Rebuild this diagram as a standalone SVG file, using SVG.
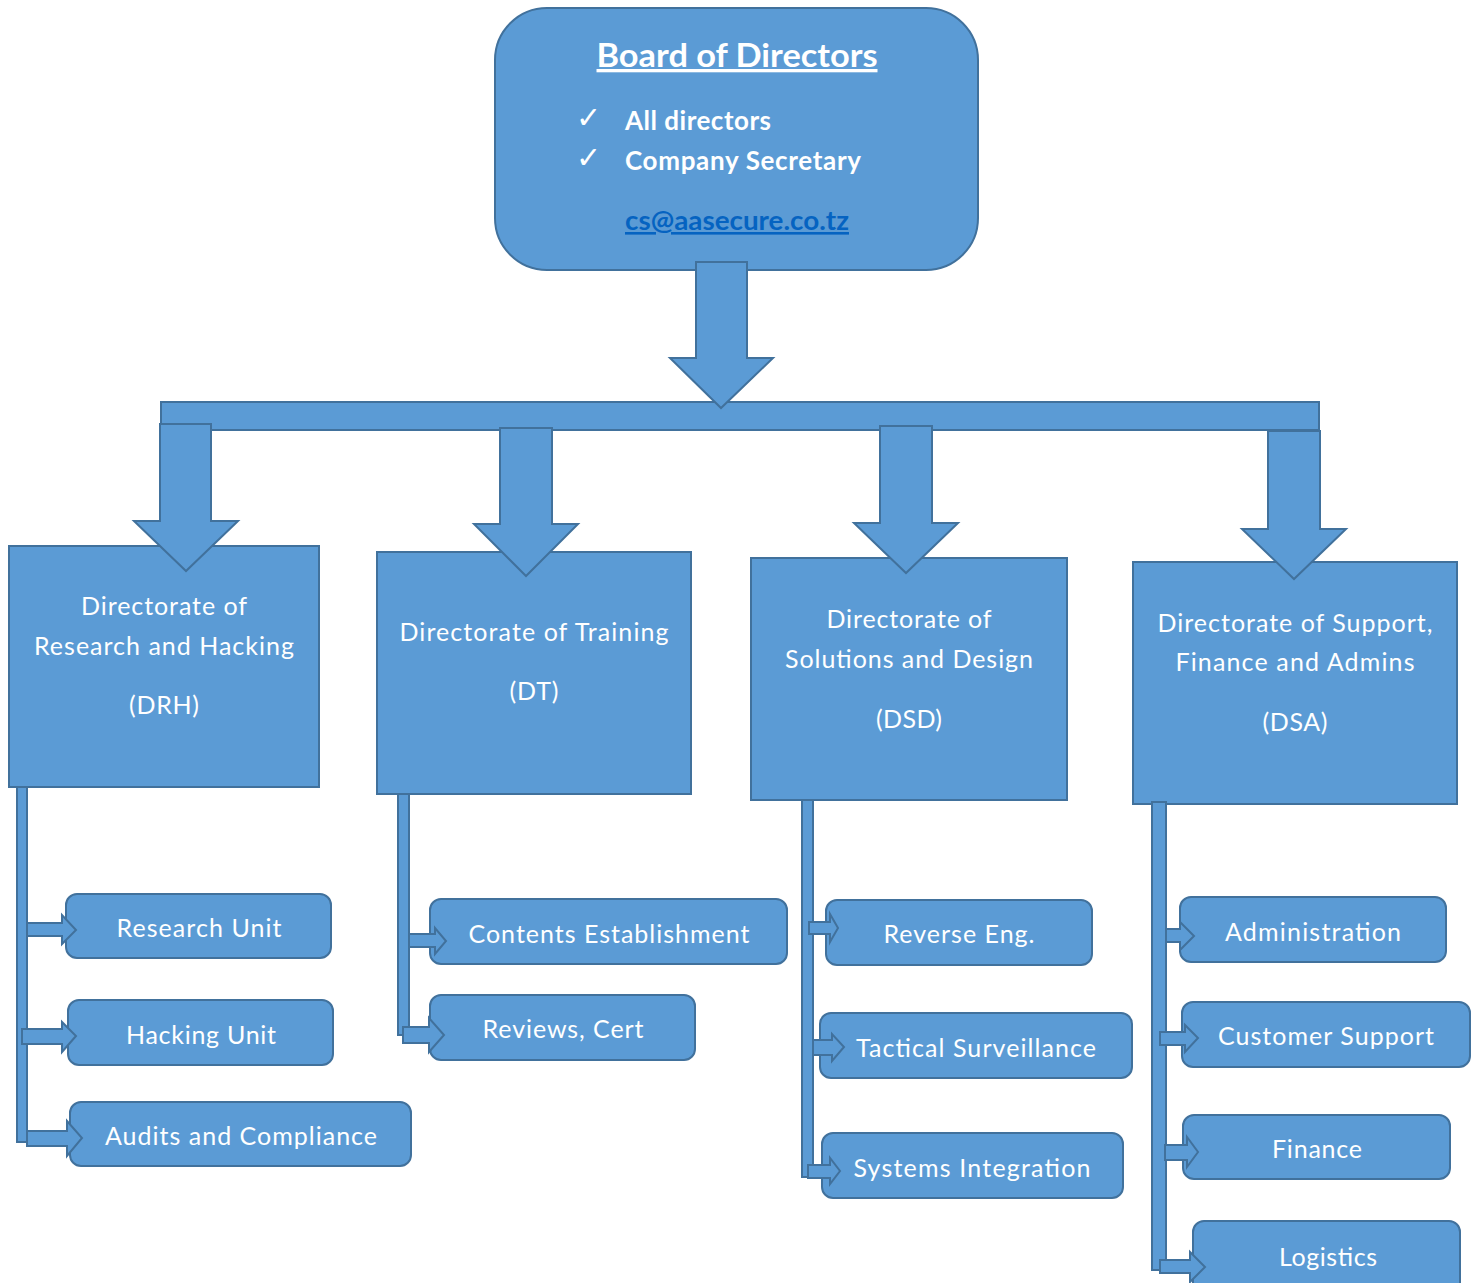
<svg xmlns="http://www.w3.org/2000/svg" width="1475" height="1283" viewBox="0 0 1475 1283">
<style>
.s{fill:#5B9BD5;stroke:#41719C;stroke-width:2}
.t{fill:#ffffff;font-family:Lato,"Open Sans",sans-serif;font-size:25px;text-anchor:middle}
.b{fill:#ffffff;font-family:Lato,"Open Sans",sans-serif;font-weight:bold;font-size:26px}
.ttl{font-size:33px}
.ck{fill:#ffffff;font-family:"DejaVu Sans",sans-serif;font-size:30px}
.lnk{fill:#0563C1}
</style>
<rect width="1475" height="1283" fill="#ffffff"/>
<g id="board">
<rect class="s" x="495" y="8" width="483" height="262" rx="52"/>
<text class="b ttl" x="737" y="67" text-anchor="middle" textLength="281" lengthAdjust="spacingAndGlyphs" text-decoration="underline">Board of Directors</text>
<text class="ck" x="576" y="128">✓</text>
<text class="ck" x="576" y="168">✓</text>
<text class="b" x="625" y="130" textLength="146">All directors</text>
<text class="b" x="625" y="170" textLength="236">Company Secretary</text>
<text class="b lnk" x="625" y="230" textLength="224" lengthAdjust="spacingAndGlyphs" text-decoration="underline">cs@aasecure.co.tz</text>
</g>
<g id="drh">
<rect class="s" x="9" y="546" width="310" height="241"/>
<text class="t" x="164" y="615" textLength="166">Directorate of</text>
<text class="t" x="164" y="655" textLength="260">Research and Hacking</text>
<text class="t" x="164" y="714" textLength="70">(DRH)</text>
</g>
<g id="dt">
<rect class="s" x="377" y="552" width="314" height="242"/>
<text class="t" x="534" y="641" textLength="269">Directorate of Training</text>
<text class="t" x="534" y="700" textLength="49">(DT)</text>
</g>
<g id="dsd">
<rect class="s" x="751" y="558" width="316" height="242"/>
<text class="t" x="909" y="628" textLength="165">Directorate of</text>
<text class="t" x="909" y="668" textLength="248">Solutions and Design</text>
<text class="t" x="909" y="728" textLength="66">(DSD)</text>
</g>
<g id="dsa">
<rect class="s" x="1133" y="562" width="324" height="242"/>
<text class="t" x="1295" y="632" textLength="275">Directorate of Support,</text>
<text class="t" x="1295" y="671" textLength="239">Finance and Admins</text>
<text class="t" x="1295" y="731" textLength="65">(DSA)</text>
</g>
<g id="research-unit"><rect class="s" x="66" y="894" width="265" height="64" rx="11"/><text class="t" x="199" y="937" textLength="165">Research Unit</text></g>
<g id="hacking-unit"><rect class="s" x="68" y="1000" width="265" height="65" rx="11"/><text class="t" x="201" y="1044" textLength="150">Hacking Unit</text></g>
<g id="audits"><rect class="s" x="70" y="1102" width="341" height="64" rx="11"/><text class="t" x="241" y="1145" textLength="272">Audits and Compliance</text></g>
<g id="contents"><rect class="s" x="430" y="899" width="357" height="65" rx="11"/><text class="t" x="609" y="943" textLength="281">Contents Establishment</text></g>
<g id="reviews"><rect class="s" x="430" y="995" width="265" height="65" rx="11"/><text class="t" x="563" y="1038" textLength="161">Reviews, Cert</text></g>
<g id="reverse"><rect class="s" x="826" y="900" width="266" height="65" rx="11"/><text class="t" x="959" y="943" textLength="151">Reverse Eng.</text></g>
<g id="tactical"><rect class="s" x="820" y="1013" width="312" height="65" rx="11"/><text class="t" x="976" y="1057" textLength="240">Tactical Surveillance</text></g>
<g id="systems"><rect class="s" x="822" y="1133" width="301" height="65" rx="11"/><text class="t" x="972" y="1177" textLength="237">Systems Integration</text></g>
<g id="administration"><rect class="s" x="1180" y="897" width="266" height="65" rx="11"/><text class="t" x="1313" y="941" textLength="176">Administration</text></g>
<g id="customer"><rect class="s" x="1182" y="1002" width="288" height="65" rx="11"/><text class="t" x="1326" y="1045" textLength="216">Customer Support</text></g>
<g id="finance"><rect class="s" x="1183" y="1115" width="267" height="64" rx="11"/><text class="t" x="1317" y="1158" textLength="90">Finance</text></g>
<g id="logistics"><rect class="s" x="1193" y="1221" width="267" height="80" rx="11"/><text class="t" x="1328" y="1266" textLength="98">Logistics</text></g>
<g id="connectors">
<rect class="s" x="161" y="402" width="1158" height="28"/>
<polygon class="s" points="696,262 747,262 747,358 773,358 721,408 670,358 696,358"/>
<polygon class="s" points="160,424 211,424 211,521 238,521 186,571 134,521 160,521"/>
<polygon class="s" points="500,428 552,428 552,524 578,524 526,576 474,524 500,524"/>
<polygon class="s" points="880,426 932,426 932,523 958,523 906,573 854,523 880,523"/>
<polygon class="s" points="1268,431 1320,431 1320,529 1346,529 1294,579 1242,529 1268,529"/>
<rect class="s" x="17" y="787" width="10" height="355"/>
<polygon class="s" points="27,923 62,923 62,915 76,930 62,944 62,936 27,936"/>
<polygon class="s" points="22,1029 62,1029 62,1022 76,1036 62,1052 62,1044 22,1044"/>
<polygon class="s" points="27,1131 67,1131 67,1121 82,1138 67,1156 67,1146 27,1146"/>
<rect class="s" x="398" y="794" width="11" height="241"/>
<polygon class="s" points="409,934 435,934 435,928 446,941 435,954 435,947 409,947"/>
<polygon class="s" points="403,1027 429,1027 429,1018 444,1035 429,1052 429,1043 403,1043"/>
<rect class="s" x="802" y="800" width="11" height="377"/>
<polygon class="s" points="809,922 830,922 830,914 838,928 830,942 830,934 809,934"/>
<polygon class="s" points="813,1040 832,1040 832,1034 844,1047 832,1061 832,1055 813,1055"/>
<polygon class="s" points="808,1165 830,1165 830,1158 840,1171 830,1184 830,1178 808,1178"/>
<rect class="s" x="1152" y="802" width="14" height="468"/>
<polygon class="s" points="1166,929 1180,929 1180,922 1194,936 1180,950 1180,942 1166,942"/>
<polygon class="s" points="1160,1032 1185,1032 1185,1025 1198,1038 1185,1052 1185,1045 1160,1045"/>
<polygon class="s" points="1165,1145 1187,1145 1187,1137 1198,1152 1187,1167 1187,1160 1165,1160"/>
<polygon class="s" points="1160,1260 1190,1260 1190,1252 1205,1267 1190,1282 1190,1273 1160,1273"/>
</g>
</svg>
